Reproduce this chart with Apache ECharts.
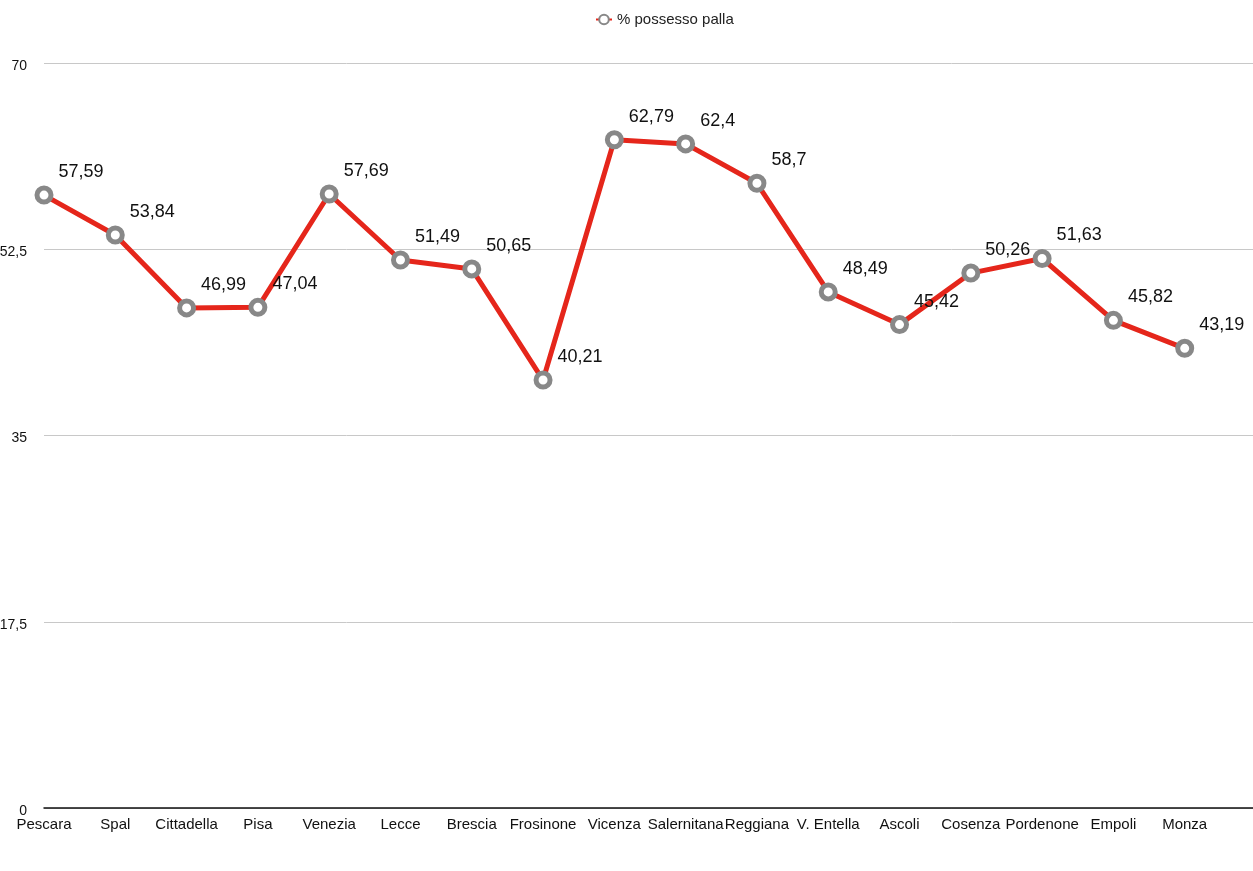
<!DOCTYPE html>
<html><head><meta charset="utf-8">
<script src="https://cdn.jsdelivr.net/npm/echarts@6/dist/echarts.min.js"></script>
<style>html,body{margin:0;padding:0;background:#fff}#c{width:1253px;height:871px}</style>
</head><body><div id="c"></div>
<script>
var categories = ['Pescara','Spal','Cittadella','Pisa','Venezia','Lecce','Brescia','Frosinone','Vicenza','Salernitana','Reggiana','V. Entella','Ascoli','Cosenza','Pordenone','Empoli','Monza',''];
var possesso = [57.59,53.84,46.99,47.04,57.69,51.49,50.65,40.21,62.79,62.4,58.7,48.49,45.42,50.26,51.63,45.82,43.19];
var yTicks = [0,17.5,35,52.5,70];
var seriesName = '% possesso palla';
var font = '"Liberation Sans", Arial, Helvetica, sans-serif';
function fmt(v){ return String(v).replace('.', ','); }
var chart = echarts.init(document.getElementById('c'));
chart.setOption({
  animation:false,
  backgroundColor:'#fff',
  legend:{top:7,left:590,itemWidth:16,itemHeight:12,itemGap:12,
    textStyle:{fontFamily:font,fontSize:15,color:'#222'},data:[seriesName]},
  grid:{left:44,right:-3,top:63,bottom:63,containLabel:false,outerBoundsMode:'none'},
  xAxis:{type:'category',data:categories,boundaryGap:false,
    axisLine:{lineStyle:{color:'#111',width:1.5}},
    axisTick:{show:false},
    axisLabel:{interval:0,margin:9,fontFamily:font,fontSize:15,color:'#111'},
    splitLine:{show:false}},
  yAxis:{type:'value',min:yTicks[0],max:yTicks[yTicks.length-1],interval:17.5,
    axisLine:{show:false},axisTick:{show:false},
    axisLabel:{margin:17,verticalAlign:'top',lineHeight:6,fontFamily:font,fontSize:14,color:'#111',formatter:function(v){return fmt(v);}},
    splitLine:{lineStyle:{color:'#c8c8c8',width:1}}},
  series:[{
    name:seriesName,type:'line',data:possesso,
    symbol:'circle',symbolSize:14,
    lineStyle:{color:'#e5261b',width:5},
    itemStyle:{color:'#ffffff',borderColor:'#888888',borderWidth:5},
    label:{show:true,position:'right',distance:5,offset:[0,-23],
      fontFamily:font,fontSize:18,color:'#111',formatter:function(p){return fmt(p.value);}},
    emphasis:{disabled:true}
  }]
});
</script></body></html>
